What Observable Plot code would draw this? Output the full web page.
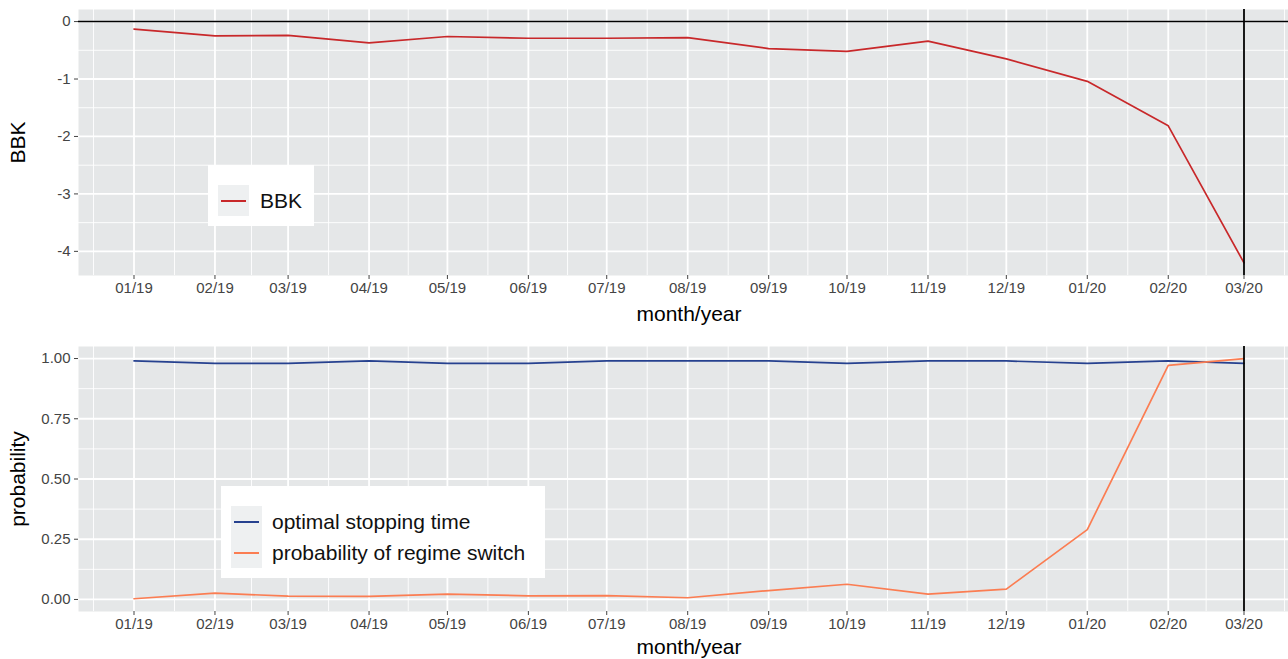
<!DOCTYPE html>
<html>
<head>
<meta charset="utf-8">
<script src="https://cdn.jsdelivr.net/npm/d3@7"></script>
<script src="https://cdn.jsdelivr.net/npm/@observablehq/plot@0.6"></script>
<style>
  html, body { margin: 0; padding: 0; background: #fff; }
  #wrap { position: relative; width: 1288px; height: 659px; overflow: hidden; font-family: "Liberation Sans", Arial, Helvetica, sans-serif; }
  .plot { position: absolute; left: 0; width: 1299px; }
  .plot svg { max-width: none !important; }
  .legend { position: absolute; background: #fff; }
  .key { position: absolute; background: #eef0f1; }
  .keyline { position: absolute; height: 2px; }
  .ltext { position: absolute; font-size: 21px; color: #111; white-space: nowrap; line-height: 21px; }
</style>
</head>
<body>
<div id="wrap">
  <div id="topPanel" class="plot" style="top:0"></div>
  <div id="bottomPanel" class="plot" style="top:330px"></div>
</div>
<script>
// ---- data ----
const months = ["2019-01","2019-02","2019-03","2019-04","2019-05","2019-06","2019-07","2019-08","2019-09","2019-10","2019-11","2019-12","2020-01","2020-02","2020-03"];
const monthLabels = ["01/19","02/19","03/19","04/19","05/19","06/19","07/19","08/19","09/19","10/19","11/19","12/19","01/20","02/20","03/20"];
const bbk = [-0.13, -0.25, -0.24, -0.37, -0.26, -0.29, -0.29, -0.28, -0.47, -0.52, -0.34, -0.65, -1.04, -1.815, -4.2];
const stopping = [0.99, 0.98, 0.98, 0.99, 0.98, 0.98, 0.99, 0.99, 0.99, 0.98, 0.99, 0.99, 0.98, 0.99, 0.98];
const regime = [0.003, 0.026, 0.014, 0.013, 0.022, 0.015, 0.016, 0.007, 0.037, 0.063, 0.022, 0.043, 0.29, 0.972, 1.0];
const topTicks = [-4, -3, -2, -1, 0];
const topMinor = [-4.5, -3.5, -2.5, -1.5, -0.5];
const botTicks = [0, 0.25, 0.5, 0.75, 1];
const botMinor = [0.125, 0.375, 0.625, 0.875];
const seriesNames = ["BBK", "optimal stopping time", "probability of regime switch"];
const colors = {"BBK": "#c8282a", "optimal stopping time": "#26418f", "probability of regime switch": "#fb7d52"};

// ---- derived tables ----
const dates = months.map(m => new Date(m + "-01T00:00:00Z"));
const labelOf = new Map(dates.map((d, i) => [+d, monthLabels[i]]));
const bbkData = dates.map((d, i) => ({date: d, value: bbk[i]}));
const probData = [
  ...dates.map((d, i) => ({date: d, value: stopping[i], series: seriesNames[1]})),
  ...dates.map((d, i) => ({date: d, value: regime[i], series: seriesNames[2]}))
];
const allMonths = d3.utcMonth.range(new Date("2018-12-01T00:00:00Z"), new Date("2020-05-01T00:00:00Z"));
const minorX = d3.pairs(allMonths).map(([a, b]) => new Date((+a + +b) / 2));
const span = dates[dates.length - 1] - dates[0];
const xDomain = [new Date(+dates[0] - 0.05 * span), new Date(+dates[dates.length - 1] + 0.05 * span)];
const vline = dates[dates.length - 1];

const FONT = '"Liberation Sans", Arial, Helvetica, sans-serif';

function makePanel({height, marginTop, marginBottom, yDomain, yTicks, yMinor, yFormat, ytitle, lines, hline, titleDy}) {
  const marks = [
    Plot.frame({fill: "#e5e7e8", stroke: "none"}),
    Plot.ruleY(yMinor, {stroke: "#fff", strokeWidth: 0.9}),
    Plot.ruleX(minorX, {stroke: "#fff", strokeWidth: 0.9}),
    Plot.ruleY(yTicks, {stroke: "#fff", strokeWidth: 1.8}),
    Plot.ruleX(dates, {stroke: "#fff", strokeWidth: 1.8}),
    ...lines,
    ...(hline ? [Plot.ruleY([0], {stroke: "#000", strokeWidth: 1.6})] : []),
    Plot.ruleX([vline], {stroke: "#000", strokeWidth: 1.8}),
    Plot.axisX({ticks: dates, tickFormat: d => labelOf.get(+d), tickSize: 4, tickPadding: 3, label: null, fontSize: 15, color: "#444"}),
    Plot.axisY({ticks: yTicks, tickFormat: yFormat, tickSize: 4, tickPadding: 4, label: null, fontSize: 15, color: "#444"}),
    Plot.text(["month/year"], {frameAnchor: "bottom", dy: titleDy, fontSize: 21, fill: "#000", lineAnchor: "middle"}),
    Plot.text([ytitle], {frameAnchor: "left", dx: -60, rotate: -90, fontSize: 21, fill: "#000", lineAnchor: "middle", textAnchor: "middle"})
  ];
  return Plot.plot({
    width: 1299,
    height,
    marginTop,
    marginBottom,
    marginLeft: 78,
    marginRight: 0,
    style: {fontFamily: FONT, background: "transparent", overflow: "visible", maxWidth: "none"},
    x: {type: "utc", domain: xDomain},
    y: {domain: yDomain},
    marks
  });
}

const topChart = makePanel({
  height: 330, marginTop: 9, marginBottom: 55,
  yDomain: [-4.42, 0.21], yTicks: topTicks, yMinor: topMinor,
  yFormat: d => String(d), ytitle: "BBK", hline: true, titleDy: 39,
  lines: [Plot.line(bbkData, {x: "date", y: "value", stroke: colors["BBK"], strokeWidth: 1.7})]
});
document.getElementById("topPanel").appendChild(topChart);

const bottomChart = makePanel({
  height: 329, marginTop: 16, marginBottom: 48,
  yDomain: [-0.05, 1.05], yTicks: botTicks, yMinor: botMinor,
  yFormat: d => d.toFixed(2), ytitle: "probability", hline: false, titleDy: 36,
  lines: [Plot.line(probData, {x: "date", y: "value", z: "series", stroke: d => colors[d.series], strokeWidth: 1.7})]
});
document.getElementById("bottomPanel").appendChild(bottomChart);

// ---- legends (HTML overlay) ----
function legend(left, topPx, width, height, entries, keyLeft, keyTop, textLeft) {
  const wrap = document.getElementById("wrap");
  const box = document.createElement("div");
  box.className = "legend";
  Object.assign(box.style, {left: left + "px", top: topPx + "px", width: width + "px", height: height + "px"});
  wrap.appendChild(box);
  entries.forEach((name, i) => {
    const k = document.createElement("div");
    k.className = "key";
    Object.assign(k.style, {left: (keyLeft - left) + "px", top: (keyTop - topPx + i * 31) + "px", width: "31px", height: "31px"});
    box.appendChild(k);
    const l = document.createElement("div");
    l.className = "keyline";
    Object.assign(l.style, {left: (keyLeft - left + 3) + "px", top: (keyTop - topPx + i * 31 + 14.5) + "px", width: "25px", background: colors[name]});
    box.appendChild(l);
    const t = document.createElement("div");
    t.className = "ltext";
    t.textContent = name;
    Object.assign(t.style, {left: (textLeft - left) + "px", top: (keyTop - topPx + i * 31 + 5) + "px"});
    box.appendChild(t);
  });
}
legend(208, 165, 106, 61, [seriesNames[0]], 218, 185, 260);
legend(221, 486, 324, 92, [seriesNames[1], seriesNames[2]], 231, 506, 272);
</script>
</body>
</html>
